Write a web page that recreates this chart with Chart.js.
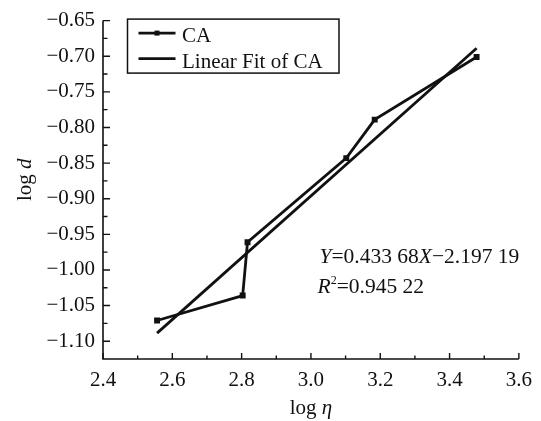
<!DOCTYPE html>
<html>
<head>
<meta charset="utf-8">
<script src="https://cdn.jsdelivr.net/npm/chart.js@4/dist/chart.umd.min.js"></script>
<style>
  html, body { margin: 0; padding: 0; background: #fff; }
  #wrap { width: 541px; height: 421px; }
</style>
</head>
<body>
<div id="wrap"><canvas id="c" width="541" height="421"></canvas></div>
<script>
// Measured series: log(viscosity) vs log(diameter)
const logEta = [2.556, 2.803, 2.817, 3.102, 3.184, 3.478];
const logD   = [-1.071, -1.036, -0.961, -0.843, -0.789, -0.701];

// Least-squares fit reported for the series
const fitSlope = 0.43368;
const fitIntercept = -2.19719;
const rSquared = 0.94522;

const xTicks = [2.4, 2.6, 2.8, 3.0, 3.2, 3.4, 3.6];
const yTicks = [-1.10, -1.05, -1.00, -0.95, -0.90, -0.85, -0.80, -0.75, -0.70, -0.65];
const seriesNames = ['CA', 'Linear Fit of CA'];

const INK = '#111';
const SERIF = '"Liberation Serif", "Times New Roman", serif';

// Fit line spans the measured range
const fitX = [Math.min(...logEta), Math.max(...logEta)];
const fitPoints = fitX.map(v => ({ x: v, y: fitSlope * v + fitIntercept }));

// "0.43368" -> "0.433 68"
function grouped(v) {
  const s = Math.abs(v).toFixed(5);
  const [i, f] = s.split('.');
  return i + '.' + f.slice(0, 3) + ' ' + f.slice(3);
}

function runsWidth(ctx, runs) {
  let w = 0;
  for (const r of runs) {
    ctx.font = (r.italic ? 'italic ' : '') + r.size + 'px ' + SERIF;
    w += ctx.measureText(r.text).width;
  }
  return w;
}

function drawRuns(ctx, x, y, runs) {
  for (const r of runs) {
    ctx.font = (r.italic ? 'italic ' : '') + r.size + 'px ' + SERIF;
    ctx.fillText(r.text, x, y + (r.dy || 0));
    x += ctx.measureText(r.text).width;
  }
  return x;
}

// Axis lines with inward major/minor ticks, axis titles, legend box and fit equation
const decorations = {
  id: 'decorations',
  afterDraw(chart) {
    const { ctx, chartArea: a, scales: { x, y } } = chart;
    ctx.save();
    ctx.strokeStyle = INK;
    ctx.fillStyle = INK;

    // axes
    ctx.lineWidth = 1.6;
    ctx.beginPath();
    ctx.moveTo(a.left, a.top);
    ctx.lineTo(a.left, a.bottom);
    ctx.lineTo(a.right, a.bottom);
    ctx.stroke();

    // ticks
    ctx.lineWidth = 1.4;
    ctx.beginPath();
    const xMinor = xTicks.slice(1).map((v, i) => (v + xTicks[i]) / 2);
    const yMinor = yTicks.slice(1).map((v, i) => (v + yTicks[i]) / 2);
    xTicks.forEach(v => { const p = x.getPixelForValue(v); ctx.moveTo(p, a.bottom); ctx.lineTo(p, a.bottom - 6); });
    xMinor.forEach(v => { const p = x.getPixelForValue(v); ctx.moveTo(p, a.bottom); ctx.lineTo(p, a.bottom - 3.5); });
    yTicks.forEach(v => { const p = y.getPixelForValue(v); ctx.moveTo(a.left, p); ctx.lineTo(a.left + 7, p); });
    yMinor.forEach(v => { const p = y.getPixelForValue(v); ctx.moveTo(a.left, p); ctx.lineTo(a.left + 4.5, p); });
    ctx.stroke();

    // axis titles
    ctx.textBaseline = 'alphabetic';
    ctx.textAlign = 'left';
    const xTitle = [{ text: 'log ', size: 21 }, { text: 'η', size: 21, italic: true }];
    const xw = runsWidth(ctx, xTitle);
    drawRuns(ctx, (a.left + a.right) / 2 - xw / 2, 414, xTitle);

    const yTitle = [{ text: 'log ', size: 21 }, { text: 'd', size: 21, italic: true }];
    const yw = runsWidth(ctx, yTitle);
    ctx.save();
    ctx.translate(31, (a.top + a.bottom) / 2 - 10);
    ctx.rotate(-Math.PI / 2);
    drawRuns(ctx, -yw / 2, 0, yTitle);
    ctx.restore();

    // legend
    const ds = chart.data.datasets;
    const lx = a.left + 24.5, ly = a.top - 1.5, lw = 211.5, lh = 54;
    ctx.lineWidth = 1.5;
    ctx.strokeRect(lx, ly, lw, lh);
    const rows = [ly + 14, ly + 39.5];
    ds.forEach((d, i) => {
      const ry = rows[i];
      ctx.lineWidth = 2.6;
      ctx.beginPath();
      ctx.moveTo(lx + 11, ry);
      ctx.lineTo(lx + 48, ry);
      ctx.stroke();
      if (d.pointRadius > 0) {
        ctx.fillRect(lx + 29.5 - 2.5, ry - 2.5, 5, 5);
      }
      ctx.font = '21px ' + SERIF;
      ctx.fillText(d.label, lx + 54.5, ry + 9);
    });

    // fit equation
    const ex = a.left + 216.5;
    const sign = fitIntercept < 0 ? '−' : '+';
    drawRuns(ctx, ex, 262.5, [
      { text: 'Y', size: 21.5, italic: true },
      { text: '=' + grouped(fitSlope), size: 21.5 },
      { text: 'X', size: 21.5, italic: true },
      { text: sign + grouped(fitIntercept), size: 21.5 }
    ]);
    drawRuns(ctx, ex - 2, 292.5, [
      { text: 'R', size: 21.5, italic: true },
      { text: '2', size: 12, dy: -9 },
      { text: '=' + grouped(rSquared), size: 21.5 }
    ]);
    ctx.restore();
  }
};

new Chart(document.getElementById('c'), {
  type: 'scatter',
  data: {
    datasets: [
      {
        label: seriesNames[0],
        data: logEta.map((v, i) => ({ x: v, y: logD[i] })),
        showLine: true,
        borderColor: INK,
        backgroundColor: INK,
        borderWidth: 2.8,
        pointStyle: 'rect',
        pointRadius: 4.2,
        pointBorderWidth: 0,
        tension: 0
      },
      {
        label: seriesNames[1],
        data: fitPoints,
        showLine: true,
        borderColor: INK,
        backgroundColor: INK,
        borderWidth: 2.8,
        pointRadius: 0,
        tension: 0
      }
    ]
  },
  options: {
    responsive: false,
    devicePixelRatio: 1,
    animation: false,
    layout: { padding: { top: 20, right: 19, left: 0, bottom: 0 } },
    plugins: { legend: { display: false }, tooltip: { enabled: false } },
    scales: {
      x: {
        type: 'linear',
        min: 2.4,
        max: 3.6,
        afterBuildTicks: s => { s.ticks = xTicks.map(v => ({ value: v })); },
        afterFit: s => { s.height = 62; },
        grid: { display: false, drawTicks: false },
        border: { display: false },
        ticks: {
          color: INK,
          padding: 9,
          maxRotation: 0,
          autoSkip: false,
          font: { family: SERIF, size: 21 },
          callback: v => Number(v).toFixed(1)
        }
      },
      y: {
        type: 'linear',
        min: -1.125,
        max: -0.65,
        afterBuildTicks: s => { s.ticks = yTicks.map(v => ({ value: v })); },
        afterFit: s => { s.width = 103; },
        grid: { display: false, drawTicks: false },
        border: { display: false },
        ticks: {
          color: INK,
          padding: 8,
          autoSkip: false,
          font: { family: SERIF, size: 21 },
          callback: v => Number(v).toFixed(2).replace('-', '−')
        }
      }
    }
  },
  plugins: [decorations]
});
</script>
</body>
</html>
